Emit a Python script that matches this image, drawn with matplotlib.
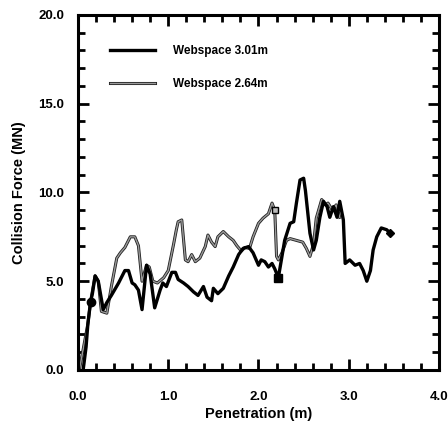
import matplotlib
matplotlib.use("Agg")
import matplotlib.pyplot as plt
import matplotlib.patheffects as pe
from matplotlib.ticker import MultipleLocator, FormatStrFormatter

# Collision force vs penetration for two web spacings
black_x = [0.06, 0.09, 0.11, 0.14, 0.16, 0.19, 0.225, 0.28, 0.32, 0.37, 0.45, 0.52,
           0.56, 0.60, 0.63, 0.67, 0.71, 0.76, 0.80, 0.85, 0.91, 0.94, 0.98, 1.04,
           1.08, 1.11, 1.17, 1.22, 1.28, 1.33, 1.39, 1.43, 1.48, 1.50, 1.55, 1.61,
           1.67, 1.72, 1.78, 1.83, 1.89, 1.94, 2.00, 2.03, 2.07, 2.11, 2.15, 2.18,
           2.22, 2.26, 2.29, 2.35, 2.39, 2.42, 2.46, 2.50, 2.52, 2.57, 2.61, 2.64,
           2.68, 2.72, 2.76, 2.79, 2.83, 2.87, 2.90, 2.94, 2.96, 3.01, 3.07, 3.12,
           3.16, 3.20, 3.24, 3.27, 3.31, 3.36, 3.42, 3.46]
black_y = [0.1, 1.3, 2.6, 3.85, 4.3, 5.3, 5.0, 3.4, 3.8, 4.2, 4.9, 5.6,
           5.6, 4.9, 4.8, 4.5, 3.4, 5.9, 5.4, 3.5, 4.5, 4.9, 4.7, 5.5,
           5.5, 5.1, 4.9, 4.7, 4.4, 4.2, 4.7, 4.1, 3.9, 4.6, 4.3, 4.6,
           5.3, 5.8, 6.5, 6.85, 6.95, 6.6, 5.9, 6.2, 6.1, 5.8, 6.0, 5.7,
           5.2, 6.4, 7.3, 8.26, 8.35, 9.4, 10.7, 10.8, 10.1, 7.7, 6.76, 7.3,
           8.6, 9.5, 9.2, 8.6, 9.2, 8.6, 9.5, 8.45, 6.0, 6.2, 5.9, 6.0,
           5.6, 5.0, 5.6, 6.76, 7.5, 8.0, 7.9, 7.7]

gray_x = [0.015, 0.07, 0.11, 0.14, 0.19, 0.225, 0.26, 0.32, 0.37, 0.43, 0.47, 0.52,
          0.58, 0.63, 0.67, 0.71, 0.76, 0.79, 0.83, 0.88, 0.95, 1.00, 1.06, 1.09,
          1.11, 1.15, 1.19, 1.22, 1.26, 1.30, 1.35, 1.41, 1.44, 1.48, 1.52, 1.55,
          1.61, 1.67, 1.72, 1.76, 1.81, 1.85, 1.90, 1.94, 2.00, 2.05, 2.11, 2.15,
          2.18, 2.20, 2.22, 2.26, 2.31, 2.35, 2.42, 2.49, 2.53, 2.57, 2.61, 2.64,
          2.70, 2.74, 2.77, 2.82, 2.86, 2.90]
gray_y = [0.0, 1.5, 2.6, 3.85, 5.3, 5.0, 3.3, 3.2, 4.7, 6.3, 6.6, 6.9,
          7.5, 7.5, 7.0, 5.0, 5.9, 5.8, 5.0, 4.9, 5.2, 5.6, 7.1, 7.9,
          8.35, 8.45, 6.2, 6.1, 6.5, 6.1, 6.3, 6.95, 7.6, 7.2, 6.95, 7.5,
          7.8, 7.5, 7.3, 7.0, 6.7, 6.9, 6.85, 7.5, 8.26, 8.55, 8.8, 9.4,
          9.0, 6.4, 6.2, 6.6, 7.3, 7.4, 7.3, 7.2, 6.85, 6.4, 7.1, 8.55,
          9.6, 9.3, 9.4, 9.0, 9.3, 8.6]

series_labels = ["Webspace 3.01m", "Webspace 2.64m"]
x_ticks = [0.0, 1.0, 2.0, 3.0, 4.0]
y_ticks = [0.0, 5.0, 10.0, 15.0, 20.0]

tick_font = ["Liberation Sans Narrow", "Liberation Sans", "DejaVu Sans"]
label_font = ["Liberation Sans", "DejaVu Sans"]

fig = plt.figure(figsize=(4.48, 4.26), dpi=100)
ax = fig.add_axes([0.174, 0.1315, 0.806, 0.8335])

ax.plot(black_x, black_y, color="black", lw=2.4, solid_joinstyle="round",
        label=series_labels[0], zorder=3)
ax.plot(gray_x, gray_y, color="#9a9a9a", lw=1.0, label=series_labels[1], zorder=2,
        path_effects=[pe.Stroke(linewidth=2.2, foreground="#202020"), pe.Normal()])

# point markers on the curves
ax.plot(black_x[3], black_y[3], "o", color="black", ms=6, zorder=4)
ax.plot(black_x[48], black_y[48], "s", color="black", ms=6, zorder=4)
ax.plot(gray_x[48], gray_y[48], "s", mfc="#bbbbbb", mec="black", mew=1.0, ms=5, zorder=4)
ax.plot(black_x[-1], black_y[-1], "D", color="black", ms=4, zorder=4)

ax.set_xlim(0, 4)
ax.set_ylim(0, 20)
ax.set_xticks(x_ticks)
ax.set_yticks(y_ticks)
ax.xaxis.set_minor_locator(MultipleLocator(0.2))
ax.yaxis.set_minor_locator(MultipleLocator(1.0))
ax.xaxis.set_major_formatter(FormatStrFormatter("%.1f"))
ax.yaxis.set_major_formatter(FormatStrFormatter("%.1f"))
ax.tick_params(which="both", direction="in", top=True, right=True, width=2.0)
ax.tick_params(which="major", length=8, labelsize=9.5)
ax.tick_params(axis="y", which="major", pad=10)
ax.tick_params(axis="x", which="major", pad=15)
ax.tick_params(which="minor", length=5)
for lab in ax.get_xticklabels() + ax.get_yticklabels():
    lab.set_family(tick_font)
    lab.set_fontweight("bold")
for sp in ax.spines.values():
    sp.set_linewidth(2.2)

ax.set_xlabel("Penetration (m)", family=label_font, fontweight="bold", fontsize=10.5, labelpad=3)
ax.set_ylabel("Collision Force (MN)", family=label_font, fontweight="bold", fontsize=10.5, labelpad=9)

leg = ax.legend(loc="upper left", bbox_to_anchor=(0.06, 0.945), frameon=False,
                handlelength=3.8, handletextpad=1.5, labelspacing=1.75,
                prop={"family": label_font, "weight": "bold", "size": 8.5})

fig.savefig("out.png", dpi=100)
